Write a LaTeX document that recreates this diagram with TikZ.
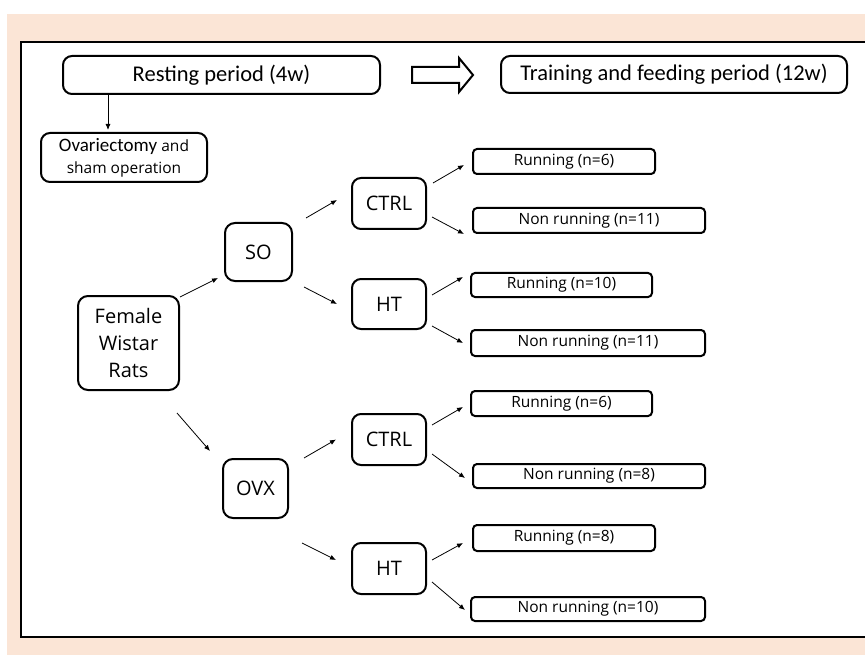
\documentclass[tikz,border=0pt]{standalone}
\usepackage{fontspec}
\setmainfont{Carlito}
\newfontfamily\segfont{Open Sans}
\usetikzlibrary{arrows.meta, calc}

\definecolor{peach}{HTML}{FBE5D6}

\tikzset{
  topbox/.style={draw, line width=2pt, rounded corners=9pt, inner sep=0pt, font=\fontsize{22.5}{27}\selectfont},
  grpbox/.style={draw, line width=2pt, rounded corners=10pt, inner sep=0pt, align=center, font=\segfont\fontsize{20}{27}\selectfont},
  resbox/.style={draw, line width=2pt, rounded corners=4pt, inner sep=0pt, font=\segfont\fontsize{15.5}{18}\selectfont},
  arr/.style={-{Latex[length=6pt,width=5pt]}, line width=0.8pt},
}

\begin{document}
\begin{tikzpicture}[x=1pt, y=-1pt]
        %frame
        \useasboundingbox (0,0) rectangle (865,655);
        \fill[peach] (7,14) rectangle (865,655);
        \fill[white] (21,42) rectangle (865,637);
        \draw[line width=2pt] (865,42) -- (21,42) -- (21,637) -- (865,637);

        %top row
        \node[topbox, minimum width=317pt, minimum height=38pt] (rest) at (221.5,75) {Resting period (4w)};
        \node[topbox, minimum width=346pt, minimum height=37pt] (train) at (674,74.5) {Training and feeding period (12w)};
        \coordinate (gap) at (412,75);
        \draw[line width=2pt, line join=miter] (gap) ++(0,-8) -- ++(47,0) -- ++(0,-9) -- ++(14,17) -- ++(-14,17) -- ++(0,-9) -- ++(-47,0) -- cycle;

        \node[draw, line width=2pt, rounded corners=9pt, inner sep=0pt, minimum width=166pt, minimum height=49pt, align=center, font=\fontsize{19}{22}\selectfont] (surg) at (124,157.5)
            {Ovariectomy {\segfont\fontsize{15.5}{22}\selectfont and}\\{\segfont\fontsize{15.5}{22}\selectfont sham operation}};

        %groups
        \node[grpbox, minimum width=101pt, minimum height=94pt] (fem) at (128.5,343) {Female\\Wistar\\Rats};
        \node[grpbox, minimum width=67pt, minimum height=58pt] (so) at (258.5,252) {SO};
        \node[grpbox, minimum width=65pt, minimum height=59pt] (ovx) at (255.5,488.5) {OVX};

        \node[grpbox, rounded corners=9pt, minimum width=74pt, minimum height=51pt] (ctrlA) at (389,203.5) {CTRL};
        \node[grpbox, rounded corners=9pt, minimum width=74pt, minimum height=50pt] (htA) at (389,304) {HT};
        \node[grpbox, rounded corners=9pt, minimum width=74pt, minimum height=51pt] (ctrlB) at (389,439.5) {CTRL};
        \node[grpbox, rounded corners=9pt, minimum width=74pt, minimum height=51pt] (htB) at (389,568.5) {HT};

        %results
        \node[resbox, minimum width=182pt, minimum height=25pt] (runA) at (564,161.5) {Running (n=6)};
        \node[resbox, minimum width=232pt, minimum height=25pt] (nonA) at (589,220.5) {Non running (n=11)};
        \node[resbox, minimum width=181pt, minimum height=24pt] (runB) at (561.5,285) {Running (n=10)};
        \node[resbox, minimum width=234pt, minimum height=26pt] (nonB) at (588,343) {Non running (n=11)};
        \node[resbox, minimum width=181pt, minimum height=25pt] (runC) at (561.5,403.5) {Running (n=6)};
        \node[resbox, minimum width=232pt, minimum height=24pt] (nonC) at (589,476) {Non running (n=8)};
        \node[resbox, minimum width=182pt, minimum height=26pt] (runD) at (564,538) {Running (n=8)};
        \node[resbox, minimum width=234pt, minimum height=24pt] (nonD) at (588,609) {Non running (n=10)};

        %edges
        \draw[arr] ($(rest.south west) + (46,0)$) -- ($(surg.north west) + (68,-2)$);

        \draw[arr] ($(fem.north east) + (0,2)$) -- ($(so.south west) + (-6,-4)$);
        \draw[arr] ($(fem.south east) + (-3,22)$) -- ($(ovx.north west) + (-12,-7)$);

        \draw[arr] ($(so.north east) + (13,-4)$) -- ($(ctrlA.west) + (-14,-3.5)$);
        \draw[arr] ($(so.south east) + (11,5)$) -- ($(htA.west) + (-14,0)$);
        \draw[arr] ($(ovx.north east) + (15,0)$) -- ($(ctrlB.west) + (-15,0)$);
        \draw[arr] ($(ovx.south east) + (13,24)$) -- ($(htB.west) + (-15,-8.5)$);

        \draw[arr] ($(ctrlA.north east) + (6,6)$) -- ($(runA.west) + (-8,3.5)$);
        \draw[arr] ($(ctrlA.south east) + (5,-13)$) -- ($(nonA.south west) + (-8,0)$);
        \draw[arr] ($(htA.east) + (5,-9)$) -- ($(runB.west) + (-7,-8)$);
        \draw[arr] ($(htA.south east) + (5,-4)$) -- ($(nonB.west) + (-7,0)$);
        \draw[arr] ($(ctrlB.north east) + (5,12)$) -- ($(runC.west) + (-7,3.5)$);
        \draw[arr] ($(ctrlB.south east) + (5,-12)$) -- ($(nonC.west) + (-7,2)$);
        \draw[arr] ($(htB.east) + (5,-8.5)$) -- ($(runD.west) + (-9,5)$);
        \draw[arr] ($(htB.south east) + (5,-13)$) -- ($(nonD.west) + (-5,1)$);
\end{tikzpicture}
\end{document}
